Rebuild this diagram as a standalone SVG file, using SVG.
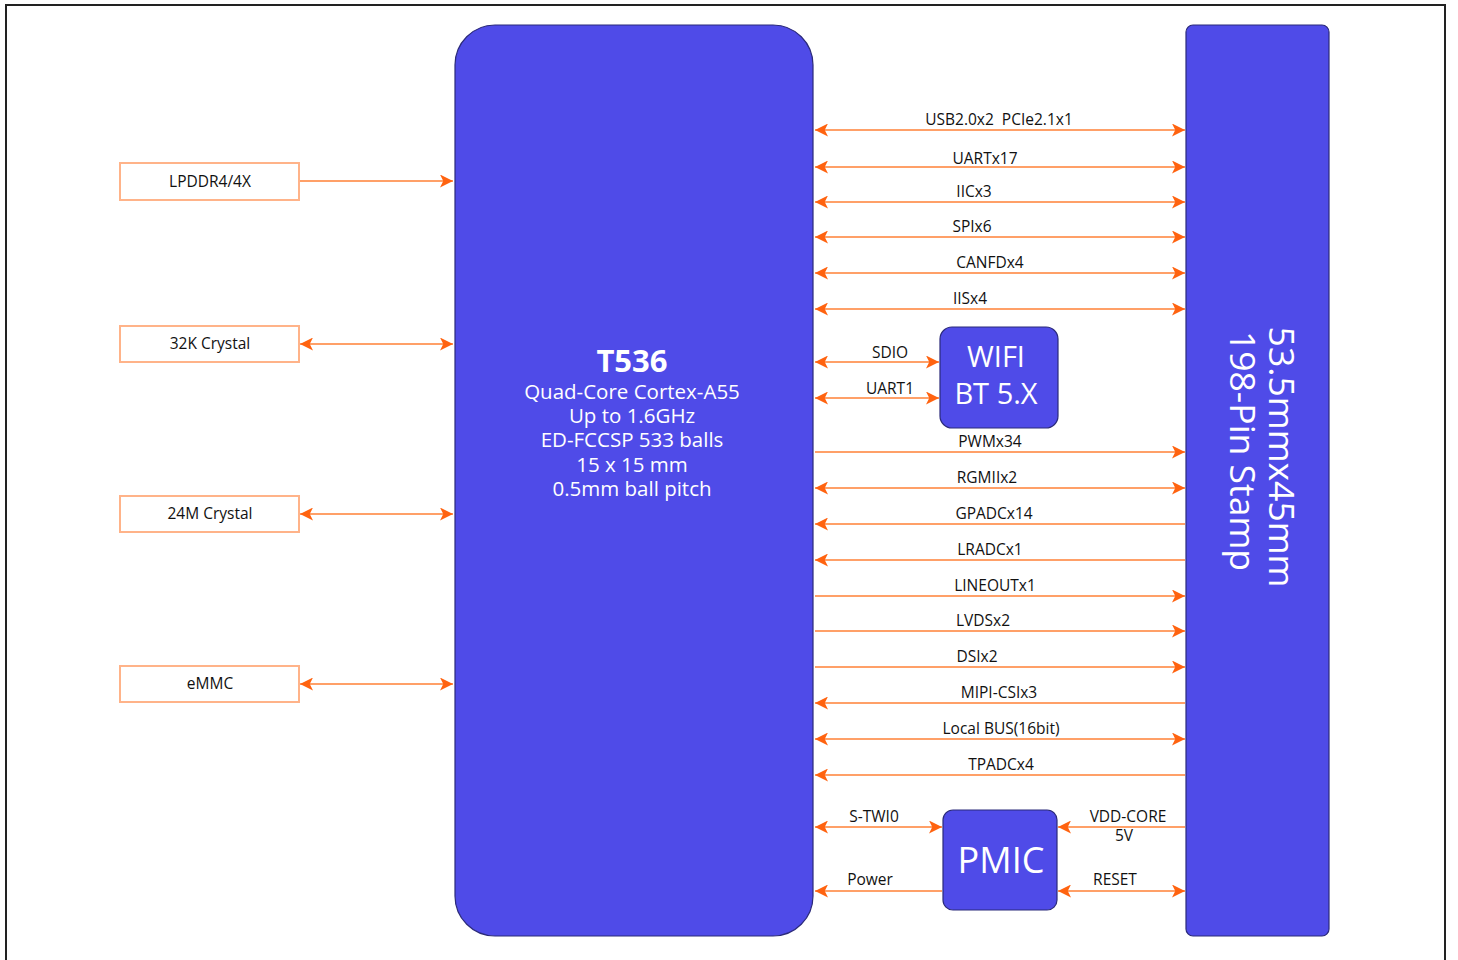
<svg xmlns="http://www.w3.org/2000/svg" width="1458" height="960" viewBox="0 0 1458 960">
<style>
.blk{fill:#4F4BE8;stroke:#2B2A7A;stroke-width:1.2}
.lbox{fill:#fff;stroke:#FFB389;stroke-width:2}
.ln{stroke:#FFA068;stroke-width:2;fill:none}
.t{font-family:"Open Sans","Noto Sans",sans-serif;font-size:15.5px;fill:#111;text-anchor:middle;white-space:pre}
.w{font-family:"Open Sans","Noto Sans",sans-serif;fill:#fff;text-anchor:middle}
</style>
<defs>
<marker id="ae" viewBox="0 0 12 12" refX="12" refY="6" markerWidth="13" markerHeight="13" markerUnits="userSpaceOnUse" orient="auto">
<path d="M0,0 L12,6 L0,12 L3,6 Z" fill="#FF6310"/>
</marker>
<marker id="as" viewBox="0 0 12 12" refX="0" refY="6" markerWidth="13" markerHeight="13" markerUnits="userSpaceOnUse" orient="auto">
<path d="M12,0 L0,6 L12,12 L9,6 Z" fill="#FF6310"/>
</marker>
</defs>
<rect x="0" y="0" width="1458" height="960" fill="#fff"/>
<path d="M6,962 V5 H1445 V962" fill="none" stroke="#222" stroke-width="2"/>

<g id="chip">
<rect class="blk" x="455" y="25" width="358" height="911" rx="40"/>
<text class="w" x="632" y="372" font-size="31" font-weight="bold">T536</text>
<text class="w" x="632" y="399" font-size="20.5">Quad-Core Cortex-A55</text>
<text class="w" x="632" y="423" font-size="20.5">Up to 1.6GHz</text>
<text class="w" x="632" y="447" font-size="20.5">ED-FCCSP 533 balls</text>
<text class="w" x="632" y="472" font-size="20.5">15 x 15 mm</text>
<text class="w" x="632" y="496" font-size="20.5">0.5mm ball pitch</text>
</g>

<g id="stamp">
<rect class="blk" x="1186" y="25" width="143" height="911" rx="7"/>
<text class="w" font-size="35.5" transform="translate(1269,457) rotate(90)">53.5mmx45mm</text>
<text class="w" font-size="35.5" transform="translate(1230,451) rotate(90)">198-Pin Stamp</text>
</g>

<g id="lpddr"><rect class="lbox" x="120" y="163" width="179" height="37"/><text class="t" x="210" y="187">LPDDR4/4X</text></g>
<g id="xtal32"><rect class="lbox" x="120" y="326" width="179" height="36"/><text class="t" x="210" y="349">32K Crystal</text></g>
<g id="xtal24"><rect class="lbox" x="120" y="496" width="179" height="36"/><text class="t" x="210" y="519">24M Crystal</text></g>
<g id="emmc"><rect class="lbox" x="120" y="666" width="179" height="36"/><text class="t" x="210" y="689">eMMC</text></g>

<g id="wifi">
<rect class="blk" x="940" y="327" width="118" height="101" rx="12"/>
<text class="w" x="996" y="367" font-size="29">WIFI</text>
<text class="w" x="996" y="404" font-size="29">BT 5.X</text>
</g>

<g id="pmic">
<rect class="blk" x="943" y="810" width="114" height="100" rx="10"/>
<text class="w" x="1001" y="873" font-size="36">PMIC</text>
</g>

<g id="connectors">
<line class="ln" x1="300" y1="181" x2="453" y2="181" marker-end="url(#ae)"/>
<line class="ln" x1="300" y1="344" x2="453" y2="344" marker-start="url(#as)" marker-end="url(#ae)"/>
<line class="ln" x1="300" y1="514" x2="453" y2="514" marker-start="url(#as)" marker-end="url(#ae)"/>
<line class="ln" x1="300" y1="684" x2="453" y2="684" marker-start="url(#as)" marker-end="url(#ae)"/>

<line class="ln" x1="815" y1="130" x2="1185" y2="130" marker-start="url(#as)" marker-end="url(#ae)"/>
<line class="ln" x1="815" y1="167" x2="1185" y2="167" marker-start="url(#as)" marker-end="url(#ae)"/>
<line class="ln" x1="815" y1="202" x2="1185" y2="202" marker-start="url(#as)" marker-end="url(#ae)"/>
<line class="ln" x1="815" y1="237" x2="1185" y2="237" marker-start="url(#as)" marker-end="url(#ae)"/>
<line class="ln" x1="815" y1="273" x2="1185" y2="273" marker-start="url(#as)" marker-end="url(#ae)"/>
<line class="ln" x1="815" y1="309" x2="1185" y2="309" marker-start="url(#as)" marker-end="url(#ae)"/>
<line class="ln" x1="815" y1="362" x2="939" y2="362" marker-start="url(#as)" marker-end="url(#ae)"/>
<line class="ln" x1="815" y1="398" x2="939" y2="398" marker-start="url(#as)" marker-end="url(#ae)"/>
<line class="ln" x1="815" y1="452" x2="1185" y2="452" marker-end="url(#ae)"/>
<line class="ln" x1="815" y1="488" x2="1185" y2="488" marker-start="url(#as)" marker-end="url(#ae)"/>
<line class="ln" x1="815" y1="524" x2="1185" y2="524" marker-start="url(#as)"/>
<line class="ln" x1="815" y1="560" x2="1185" y2="560" marker-start="url(#as)"/>
<line class="ln" x1="815" y1="596" x2="1185" y2="596" marker-end="url(#ae)"/>
<line class="ln" x1="815" y1="631" x2="1185" y2="631" marker-end="url(#ae)"/>
<line class="ln" x1="815" y1="667" x2="1185" y2="667" marker-end="url(#ae)"/>
<line class="ln" x1="815" y1="703" x2="1185" y2="703" marker-start="url(#as)"/>
<line class="ln" x1="815" y1="739" x2="1185" y2="739" marker-start="url(#as)" marker-end="url(#ae)"/>
<line class="ln" x1="815" y1="775" x2="1185" y2="775" marker-start="url(#as)"/>
<line class="ln" x1="815" y1="827" x2="942" y2="827" marker-start="url(#as)" marker-end="url(#ae)"/>
<line class="ln" x1="815" y1="891" x2="942" y2="891" marker-start="url(#as)"/>
<line class="ln" x1="1058" y1="827" x2="1185" y2="827" marker-start="url(#as)"/>
<line class="ln" x1="1058" y1="891" x2="1185" y2="891" marker-start="url(#as)" marker-end="url(#ae)"/>

<text class="t" x="999" y="125">USB2.0x2  PCIe2.1x1</text>
<text class="t" x="985" y="164">UARTx17</text>
<text class="t" x="974" y="197">IICx3</text>
<text class="t" x="972" y="232">SPIx6</text>
<text class="t" x="990" y="268">CANFDx4</text>
<text class="t" x="970" y="304">IISx4</text>
<text class="t" x="890" y="358">SDIO</text>
<text class="t" x="890" y="394">UART1</text>
<text class="t" x="990" y="447">PWMx34</text>
<text class="t" x="987" y="483">RGMIIx2</text>
<text class="t" x="994" y="519">GPADCx14</text>
<text class="t" x="990" y="555">LRADCx1</text>
<text class="t" x="995" y="591">LINEOUTx1</text>
<text class="t" x="983" y="626">LVDSx2</text>
<text class="t" x="977" y="662">DSIx2</text>
<text class="t" x="999" y="698">MIPI-CSIx3</text>
<text class="t" x="1001" y="734">Local BUS(16bit)</text>
<text class="t" x="1001" y="770">TPADCx4</text>
<text class="t" x="874" y="822">S-TWI0</text>
<text class="t" x="870" y="885">Power</text>
<text class="t" x="1128" y="822">VDD-CORE</text>
<text class="t" x="1124" y="841">5V</text>
<text class="t" x="1115" y="885">RESET</text>
</g>
</svg>
